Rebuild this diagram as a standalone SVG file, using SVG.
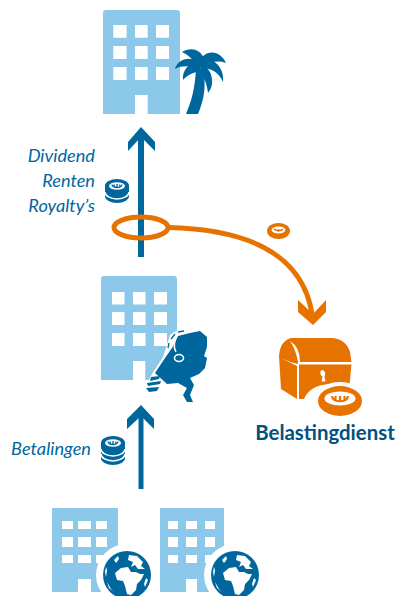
<svg xmlns="http://www.w3.org/2000/svg" width="396" height="596" viewBox="0 0 396 596">
<defs>
<style>
.b{fill:#8cc8ea}
.w{fill:#fff}
.d{fill:#00679e}
.o{fill:#e67300}
.lab{font-family:Lato,"Open Sans",sans-serif;font-style:italic;font-size:18.200px;fill:#00679e}
</style>
<g id="globe">
<circle r="31" class="w"/>
<circle r="24" class="d"/>
<path class="w" d="M-13,-15 L-9,-19 L-8,-16 L-11,-12 Z M2,-20 L10,-19 L16,-13 L14,-9 L18,-6 L11,-6 L8,-10 L4,-8 L6,-13 L1,-15 Z M-12,-2 L-6,-7 L1,-8 L4,-3 L9,-3 L13,-1 L17,-1 L14,5 L10,9 L9,15 L4,20 L0,19 L-2,11 L-4,6 L-10,5 Z M19,3 L21,5 L18,12 L17,9 Z M-21,-8 L-20,-5 L-21,2 L-22,-3 Z M-20,7 L-16,14 L-13,17 L-18,13 Z"/>
</g>
<g id="coin2">
<path d="M-12,-5 A12,7 0 0 1 12,-5 V5 A12,7 0 0 1 -12,5 Z" class="d"/>
<path d="M-12,1 A12,7 0 0 0 12,1" fill="none" stroke="#fff" stroke-width="1.500"/>
<ellipse cy="-5" rx="8" ry="3.800" class="w"/>
<path d="M-5,-6.500 A5,3 0 0 0 5,-6.500 M0,-7 V-3.500 M-2.800,-6.500 V-4.500 M2.800,-6.500 V-4.500" fill="none" stroke="#00679e" stroke-width="1.300"/>
</g>
</defs>
<rect width="396" height="596" fill="#fff"/>

<g id="connectors">
<g id="arrow-top" class="d">
<rect x="138" y="136" width="6" height="121"/>
<path d="M141,127 L155,142 V151 L141,137 L128,151 V142 Z"/>
</g>
<g id="arrow-bottom" class="d">
<rect x="138.500" y="416" width="5" height="73"/>
<path d="M141,405 L154,419 V429 L141,416 L127,429 V419 Z"/>
</g>
<g id="arrow-tax">
<ellipse cx="141" cy="227.500" rx="27" ry="10.500" fill="none" stroke="#e67300" stroke-width="5"/>
<path d="M168,227.500 C240,229 302,250 312,314" fill="none" stroke="#e67300" stroke-width="5"/>
<path class="o" d="M313,325 L298,312 V300 L313,314 L326,300 V312 Z"/>
</g>
</g>

<g id="building-top">
<path class="b" d="M106,10 H177 Q180,10 180,13 V114 H147.700 V95 H135 V114 H103 V13 Q103,10 106,10 Z"/>
<path class="w" d="M113.300,25 h13.300 v12.700 h-13.300 Z M135,25 h12.700 v12.700 h-12.700 Z M156,25 h13 v12.700 h-13 Z M113.300,46 h13.300 v13 h-13.300 Z M135,46 h12.700 v13 h-12.700 Z M156,46 h13 v13 h-13 Z M113.300,67 h13.300 v13 h-13.300 Z M135,67 h12.700 v13 h-12.700 Z M156,67 h13 v13 h-13 Z"/>
<path class="d" d="M186,114 C191,102 195,90 196,68 L203,70 C207,88 203,102 198,114 Z"/>
<path class="d" d="M182,52 C191,46 205,49 205,66 L197,68 C196,62 190,56 182,52 Z"/>
<path class="d" d="M175,69 C177,60 188,55 201,62 L200,69 C192,66 182,65 175,69 Z"/>
<path class="d" d="M183,80 C182,70 189,62 200,62 L201,71 C194,72 187,75 183,80 Z"/>
<path class="d" d="M226,63 C221,52 210,49 202,57 L201,66 C210,62 218,60 226,63 Z"/>
<path class="d" d="M223,82 C225,68 213,56 201,60 L201,69 C211,67 219,73 223,82 Z"/>
<path class="d" d="M208,93 C216,84 212,68 201,64 L200,74 C205,78 207,85 208,93 Z"/>
</g>

<g id="building-mid">
<path class="b" d="M104,276 H174 Q177,276 177,279 V380 H145.300 V361 H133 V380 H101 V279 Q101,276 104,276 Z"/>
<path class="w" d="M112,292 h12.500 v12.500 h-12.500 Z M133,292 h12.500 v12.500 h-12.500 Z M154,292 h13 v12.500 h-13 Z M112,312 h12.500 v13 h-12.500 Z M133,312 h12.500 v13 h-12.500 Z M154,312 h13 v13 h-13 Z M112,333 h12.500 v13 h-12.500 Z M133,333 h12.500 v13 h-12.500 Z M154,333 h13 v13 h-13 Z"/>
<path class="w" d="M170,335 Q180,326 200,328 L210,340 L205,375 L178,396 L160,396 L143,390 L152,374 L163,357 Z"/>
<path class="d" d="M178,336 L190,333 L200,331 L207,337 L207,347 L204,356 L207,358 L205,368 L199,374 L190,378 L194,385 L190,395 L193,402 L187,402 L183,395 L187,388 L178,383 L167,384 L155,373 L165,358 L172,348 Z"/>
<path d="M177,336 Q172,345 176,352" fill="none" stroke="#fff" stroke-width="1.500"/>
<ellipse cx="179" cy="358" rx="4.500" ry="3.500" fill="none" stroke="#fff" stroke-width="1.600"/>
<path d="M168,348 L169,343 M171,339 L175,334 M178,332 L184,331" fill="none" stroke="#00679e" stroke-width="1.300"/>
<path class="d" d="M151,377 L160,376 L159,379 L150,381 Z M147,383 L161,381 L160,384 L148,386 Z M146,388 L159,387 L157,391 L149,392 Z"/>
</g>

<g id="building-left">
<path class="b" d="M52,508 H118 V592 H91 V579 H78 V592 H52 Z"/>
<path class="w" d="M62,521 h11 v8 h-11 Z M78,521 h13 v8 h-13 Z M96,521 h11 v8 h-11 Z M62,537 h11 v10 h-11 Z M78,537 h13 v10 h-13 Z M96,537 h11 v10 h-11 Z M62,555 h11 v8 h-11 Z M78,555 h13 v8 h-13 Z M96,555 h11 v8 h-11 Z"/>
<use href="#globe" x="127" y="575"/>
</g>
<g id="building-right">
<path class="b" d="M160,508 H224 V592 H197 V579 H186 V592 H160 Z"/>
<path class="w" d="M168,521 h10 v8 h-10 Z M186,521 h11 v8 h-11 Z M205,521 h10 v8 h-10 Z M168,537 h10 v10 h-10 Z M186,537 h11 v10 h-11 Z M205,537 h10 v10 h-10 Z M168,555 h10 v8 h-10 Z M186,555 h11 v8 h-11 Z M205,555 h10 v8 h-10 Z"/>
<use href="#globe" x="235" y="575"/>
</g>

<g id="label-top">
<text class="lab" x="95" y="162" text-anchor="end">Dividend</text>
<text class="lab" x="95" y="187" text-anchor="end">Renten</text>
<text class="lab" x="95" y="212" text-anchor="end">Royalty’s</text>
<use href="#coin2" x="117" y="191"/>
</g>

<g id="label-bottom">
<text class="lab" x="91" y="455" text-anchor="end">Betalingen</text>
<use href="#coin2" x="113" y="448"/>
<path class="d" d="M101,453 A12,7 0 0 0 125,453 V458 A12,7 0 0 1 101,458 Z"/>
<path d="M101,454 A12,7 0 0 0 125,454" fill="none" stroke="#fff" stroke-width="1.500"/>
</g>

<g id="coin-small">
<ellipse cx="278.500" cy="231" rx="11.500" ry="8" class="o"/>
<ellipse cx="278.500" cy="230" rx="7" ry="3.500" class="w"/>
<path d="M274,229 A5,3 0 0 0 283,229 M278.500,229 V232" fill="none" stroke="#e67300" stroke-width="1.300"/>
</g>

<g id="belastingdienst">
<path class="o" d="M279,356 Q280,341 291,338 H332 Q346,339 350,352 L351.500,362 H300 Q300,347 290,341 Q296,350 298,362 V364 Q289,362 281,358 L297,366 V399 L281,389 Z M299,364.500 H351.500 L349,390 Q340,385 330,384 Q310,385 304,399 H299 Z"/>
<path class="w" d="M322,370 a4,4 0 0 1 3,6.500 l1,5 h-4 l1,-5 a4,4 0 0 1 -1,-6.500 Z" transform="translate(-0.500,0)"/>
<ellipse cx="340" cy="401" rx="27" ry="19" class="w"/>
<ellipse cx="340" cy="401" rx="22" ry="15" class="o"/>
<ellipse cx="340" cy="398.500" rx="15.500" ry="7" class="w"/>
<path d="M332,396 C332,403 348,403 348,396 M340,396 V402 M335.500,396 V401 M344.500,396 V401" fill="none" stroke="#e67300" stroke-width="2.200"/>
<text x="325" y="440" text-anchor="middle" font-family="Lato,'Open Sans',sans-serif" font-weight="700" font-size="20.400" fill="#00527f">Belastingdienst</text>
</g>
</svg>
